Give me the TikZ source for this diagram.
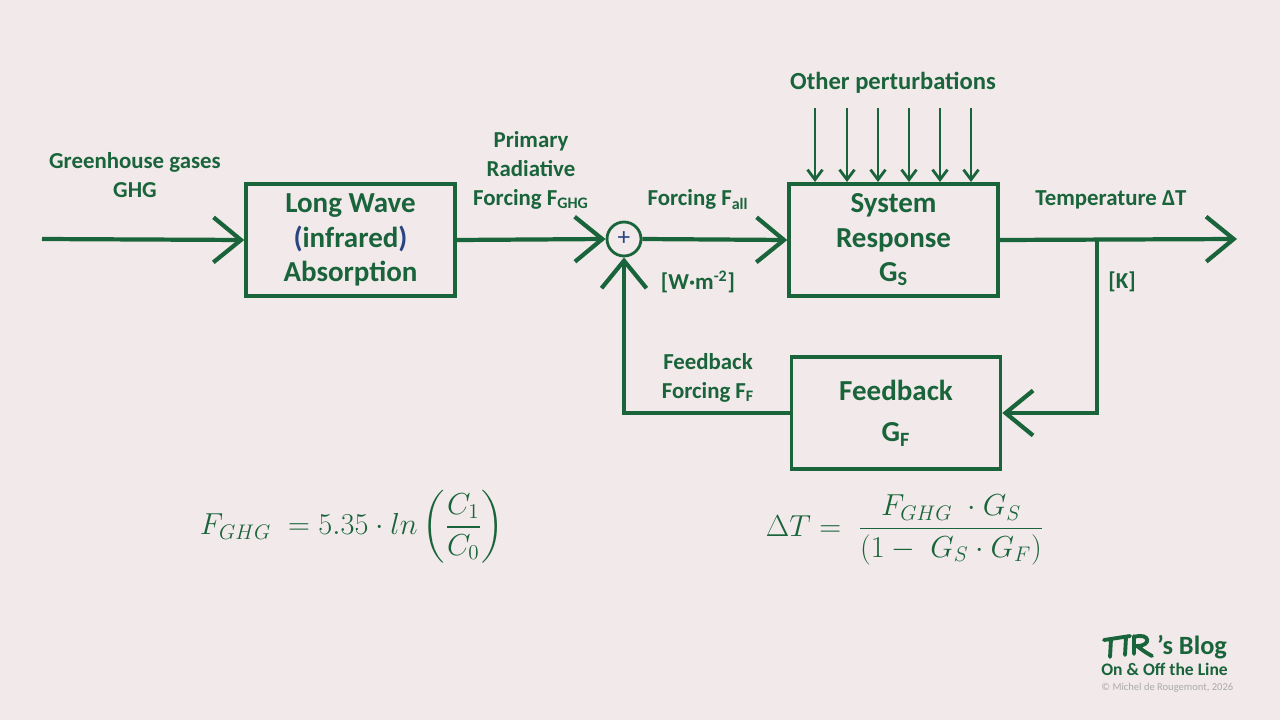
\documentclass[tikz,border=0pt]{standalone}
\usepackage{fontspec}
\setmainfont{Carlito}
\usepackage{amsmath}
\usetikzlibrary{arrows.meta,positioning}
\definecolor{dgreen}{RGB}{25,100,58}
\definecolor{dback}{RGB}{242,233,234}
\definecolor{dblue}{RGB}{40,70,130}
\definecolor{dgrey}{RGB}{170,170,170}
\tikzset{
  blk/.style={draw=dgreen,line width=2pt,minimum width=4.18cm,minimum height=2.24cm,
    align=center,font=\fontsize{16.5}{19.5}\selectfont\bfseries,text=dgreen},
  lbl/.style={align=center,font=\fontsize{13}{16.5}\selectfont\bfseries,text=dgreen},
  flow/.style={dgreen,line width=2.4pt,-{Straight Barb[length=0.55cm,width=0.9cm,line width=2.4pt]}},
  pert/.style={dgreen,line width=1.6pt,-{Straight Barb[length=0.2cm,width=0.3cm,line width=1.6pt]}}
}
\begin{document}
\begin{tikzpicture}[x=0.02cm,y=-0.02cm]
\fill[dback] (0,0) rectangle (1280,720);
% blocks
\node[blk] (absorb) at (350.5,240) {Long Wave\\{\color{dblue}(}infrared{\color{dblue})}\\Absorption};
\node[blk] (system) at (893.5,240) {System\\Response\\G\textsubscript{S}};
\node[blk] (feedback) at (896,413) {Feedback\\[4pt]G\textsubscript{F}};
\node[draw=dgreen,line width=1.6pt,circle,minimum size=0.68cm,inner sep=0pt,text=dblue,
  font=\Large] (sum) at (624,239) {+};
% main line
\coordinate (in) at (42,239);
\coordinate (out) at (1237,239);
\coordinate (tap) at (1097,239);
\draw[flow] (in) -- (absorb.west);
\draw[flow] (absorb.east) -- (sum.west);
\draw[flow] (sum.east) -- (system.west);
\draw[flow] (system.east) -- (out);
% feedback loop
\draw[flow] (tap) |- (feedback.east);
\draw[flow] (feedback.west) -| (sum.south);
% other perturbations
\foreach \x in {815,847,878,909,940,971} {
    \coordinate (p\x) at (\x,108);
    \draw[pert] (p\x) -- (\x,182);
}
% labels
\node[lbl] (ghg) at (135,175) {Greenhouse gases\\GHG};
\node[lbl] (prim) at (531,170) {Primary\\Radiative\\Forcing F\textsubscript{GHG}};
\node[lbl] (fall) at (698,200) {Forcing F\textsubscript{all}};
\node[lbl] (unitw) at (698,282) {[W·m\textsuperscript{-2}]};
\node[lbl] (temp) at (1111,200) {Temperature ΔT};
\node[lbl] (unitk) at (1122,282) {[K]};
\node[lbl,font=\fontsize{14}{17}\selectfont\bfseries] (other) at (893,83) {Other perturbations};
\node[lbl] (fbf) at (708,378) {Feedback\\Forcing F\textsubscript{F}};
% equations
\node[text=dgreen,font=\LARGE] (eqf) at (352,527)
  {$F_{GHG}\;=5.35\cdot ln\left(\dfrac{C_1}{C_0}\right)$};
\node[text=dgreen,font=\LARGE] (eqt) at (905,530)
  {$\Delta T=\;\dfrac{F_{GHG}\;\cdot G_S}{(1-\;G_S\cdot G_F)}$};
% logo
\draw[dgreen,line width=2.2pt,line cap=round] (1104,640) -- (1130,636) (1111,639) -- (1110,657)
  (1126,637) -- (1125,655) (1134,636) -- (1134,654)
  (1134,637) .. controls (1150,632) and (1152,646) .. (1137,646) .. controls (1145,652) .. (1152,656);
\node[anchor=west,text=dgreen,font=\fontsize{15}{18}\selectfont\bfseries] (blog) at (1151,647) {'s Blog};
\node[anchor=west,text=dgreen,font=\fontsize{10}{12}\selectfont\bfseries,inner sep=0pt] (tag) at (1101,669) {On \& Off the Line};
\node[anchor=west,text=dgrey,font=\fontsize{6}{8}\selectfont,inner sep=0pt] (copy) at (1101,688) {© Michel de Rougemont, 2026};
\end{tikzpicture}
\end{document}
